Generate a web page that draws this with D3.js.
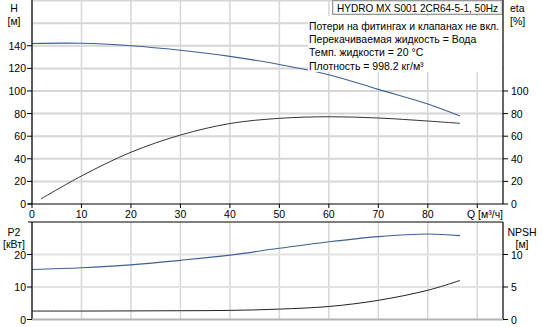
<!DOCTYPE html>
<html><head><meta charset="utf-8">
<script src="https://cdn.jsdelivr.net/npm/d3@7"></script>
<style>body{margin:0;background:#fff}svg{display:block;font-family:"Liberation Sans",Arial,sans-serif}</style>
</head><body><svg id="c" width="543" height="327"></svg>
<script>
const qH = [0,10,20,30,40,50,60,70,80,86.5];
const hVals = [142,142.2,140,136,130.6,123.5,114.4,101.4,88.4,77.8];
const qEta = [1.8,10,20,30,40,50,60,70,80,86.5];
const etaVals = [4.4,24.8,45.8,61,71.2,75.8,77.2,76.1,73.4,71.4];
const qP = [0,10,20,30,40,50,60,70,80,86.5];
const p2Vals = [15.4,15.9,16.8,18.2,19.8,21.9,23.9,25.5,26.3,25.8];
const npshVals = [1.3,1.3,1.32,1.35,1.4,1.6,2.0,2.95,4.5,6.0];
const qTicks = [0,10,20,30,40,50,60,70,80,90];
const qLabels = ["0","10","20","30","40","50","60","70","80",""];
const hTicksAll = [0,20,40,60,80,100,120,140,160,180];
const etaTicks = [0,20,40,60,80,100];
const p2Ticks = [0,10,20];
const npshTicks = [0,5,10];
const title = "HYDRO MX S001 2CR64-5-1, 50Hz";
const info = ["Потери на фитингах и клапанах не вкл.","Перекачиваемая жидкость = Вода","Темп. жидкости = 20 °C","Плотность = 998.2 кг/м³"];

const FS = 10.5;
const svg = d3.select("#c");
const L=32, R=503, T1=0, B1=204, T2=222, B2=319.5;
const x = d3.scaleLinear().domain([0,95.2]).range([L,R]);
const yH = d3.scaleLinear().domain([0,180.5]).range([B1,T1]);
const yEta = yH;
const yP = d3.scaleLinear().domain([0,30]).range([B2,T2]);
const yN = d3.scaleLinear().domain([0,15]).range([B2,T2]);
const grid="#d6d6d6";

svg.append("g").selectAll("line").data(qTicks).join("line")
  .attr("x1",d=>x(d)).attr("x2",d=>x(d)).attr("y1",T1).attr("y2",B1)
  .attr("stroke",grid).attr("stroke-width",1.5);
svg.append("g").selectAll("line").data(hTicksAll.filter(d=>d>0)).join("line")
  .attr("x1",L).attr("x2",R).attr("y1",d=>yH(d)).attr("y2",d=>yH(d))
  .attr("stroke",grid).attr("stroke-width",2);
svg.append("g").selectAll("line").data(qTicks).join("line")
  .attr("x1",d=>x(d)).attr("x2",d=>x(d)).attr("y1",T2).attr("y2",B2)
  .attr("stroke",grid).attr("stroke-width",1.5);
svg.append("g").selectAll("line").data([10,20]).join("line")
  .attr("x1",L).attr("x2",R).attr("y1",d=>yP(d)).attr("y2",d=>yP(d))
  .attr("stroke","#e2e2e2").attr("stroke-width",2);

const line=(xs,ys,xsc,ysc)=>d3.line().x((d,i)=>xsc(xs[i])).y(d=>ysc(d)).curve(d3.curveCatmullRom)(ys);
svg.append("path").attr("d",line(qEta,etaVals,x,yEta)).attr("fill","none").attr("stroke","#333").attr("stroke-width",1);
svg.append("path").attr("d",line(qH,hVals,x,yH)).attr("fill","none").attr("stroke","#3d5f95").attr("stroke-width",1.1);
svg.append("path").attr("d",line(qP,p2Vals,x,yP)).attr("fill","none").attr("stroke","#3d5f95").attr("stroke-width",1.1);
svg.append("path").attr("d",line(qP,npshVals,x,yN)).attr("fill","none").attr("stroke","#222").attr("stroke-width",1);

// info box
svg.append("rect").attr("x",308).attr("y",16).attr("width",194).attr("height",56).attr("fill","#fff");
svg.append("g").selectAll("text").data(info).join("text")
  .attr("x",309).attr("y",(d,i)=>30+i*13.2).attr("font-size",FS).text(d=>d)
  .each(function(d,i){ if(i===0){const w=this.getComputedTextLength(); if(w>190){this.setAttribute("textLength",190);this.setAttribute("lengthAdjust","spacingAndGlyphs");}}});
// title box
svg.append("rect").attr("x",332.5).attr("y",0.5).attr("width",169.5).attr("height",14).attr("fill","#fff").attr("stroke","#999");
svg.append("rect").attr("x",333.5).attr("y",1.5).attr("width",167.5).attr("height",12).attr("fill","none").attr("stroke","#ddd");
svg.append("text").attr("x",337).attr("y",11.5).attr("font-size",FS).text(title)
  .each(function(){const w=this.getComputedTextLength(); if(w>161){this.setAttribute("textLength",161);this.setAttribute("lengthAdjust","spacingAndGlyphs");}});

const ax=(x1,y1,x2,y2,c,w)=>svg.append("line").attr("x1",x1).attr("y1",y1).attr("x2",x2).attr("y2",y2).attr("stroke",c||"#000").attr("stroke-width",w||1.2);
ax(L,T1,L,B1); ax(R,T1,R,B1); ax(L-4,B1,R,B1);
ax(L,T2,L,B2); ax(R,T2,R,B2); ax(L-4,T2,R,T2);
ax(L,B2,R,B2,"#b4b4b4",2);

const yl=svg.append("g");
yl.selectAll("line").data(hTicksAll.filter(d=>d<=140)).join("line")
  .attr("x1",L-5).attr("x2",L).attr("y1",d=>yH(d)).attr("y2",d=>yH(d)).attr("stroke","#000");
yl.selectAll("text").data(hTicksAll.filter(d=>d<=140)).join("text")
  .attr("x",L-6).attr("y",d=>yH(d)+4).attr("text-anchor","end").attr("font-size",FS).text(d=>d);
const yr=svg.append("g");
yr.selectAll("line").data(etaTicks).join("line")
  .attr("x1",R).attr("x2",R+5).attr("y1",d=>yEta(d)).attr("y2",d=>yEta(d)).attr("stroke","#000");
yr.selectAll("text").data(etaTicks).join("text")
  .attr("x",R+8).attr("y",d=>yEta(d)+4).attr("font-size",FS).text(d=>d);
const xl=svg.append("g");
xl.selectAll("line").data(qTicks).join("line")
  .attr("x1",d=>x(d)).attr("x2",d=>x(d)).attr("y1",B1).attr("y2",B1+4).attr("stroke","#000");
xl.selectAll("text").data(qTicks).join("text")
  .attr("x",d=>x(d)).attr("y",B1+14).attr("text-anchor","middle").attr("font-size",FS).text((d,i)=>qLabels[i]);
svg.append("text").attr("x",467).attr("y",B1+14).attr("font-size",FS).text("Q [м³/ч]");
const pl=svg.append("g");
pl.selectAll("line").data(p2Ticks).join("line")
  .attr("x1",L-5).attr("x2",L).attr("y1",d=>yP(d)).attr("y2",d=>yP(d)).attr("stroke","#000");
pl.selectAll("text").data(p2Ticks).join("text")
  .attr("x",L-6).attr("y",d=>yP(d)+4).attr("text-anchor","end").attr("font-size",FS).text(d=>d);
const nr=svg.append("g");
nr.selectAll("line").data(npshTicks).join("line")
  .attr("x1",R).attr("x2",R+5).attr("y1",d=>yN(d)).attr("y2",d=>yN(d)).attr("stroke","#000");
nr.selectAll("text").data(npshTicks).join("text")
  .attr("x",R+8).attr("y",d=>yN(d)+4).attr("font-size",FS).text(d=>d);

const t=(xx,yy,s,a)=>svg.append("text").attr("x",xx).attr("y",yy).attr("font-size",FS).attr("text-anchor",a||"middle").text(s);
t(14,12,"H"); t(14,25,"[м]");
t(510,12,"eta","start"); t(510,25,"[%]","start");
t(14,236,"P2"); t(14,248,"[кВт]");
t(522,236,"NPSH"); t(522,248,"[м]");
</script></body></html>
